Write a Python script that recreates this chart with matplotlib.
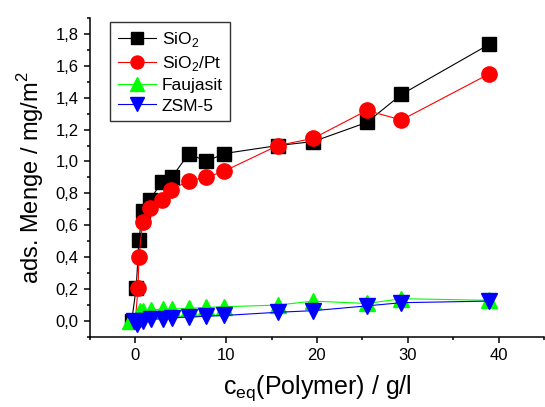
import matplotlib
matplotlib.use("Agg")
import matplotlib.pyplot as plt
from matplotlib.ticker import MultipleLocator, FuncFormatter

# data
x_sio2 = [-0.4, 0.1, 0.4, 0.8, 1.6, 2.9, 4.0, 5.9, 7.8, 9.8, 15.7, 19.6, 25.5, 29.3, 39.0]
y_sio2 = [0.0, 0.21, 0.51, 0.69, 0.76, 0.87, 0.90, 1.05, 1.00, 1.05, 1.10, 1.125, 1.245, 1.42, 1.735]

x_sio2pt = [0.0, 0.3, 0.4, 0.8, 1.6, 2.9, 3.9, 5.9, 7.8, 9.8, 15.7, 19.6, 25.5, 29.3, 39.0]
y_sio2pt = [0.0, 0.21, 0.40, 0.62, 0.71, 0.76, 0.82, 0.88, 0.90, 0.94, 1.10, 1.145, 1.32, 1.26, 1.55]

x_fau = [-0.6, 0.5, 0.9, 1.7, 3.0, 4.0, 5.9, 7.8, 9.8, 15.7, 19.6, 25.5, 29.3, 39.0]
y_fau = [0.0, 0.06, 0.06, 0.07, 0.075, 0.075, 0.08, 0.085, 0.09, 0.10, 0.125, 0.11, 0.14, 0.13]

x_zsm = [-0.2, 0.2, 0.9, 1.7, 3.0, 4.0, 5.9, 7.8, 9.8, 15.7, 19.6, 25.5, 29.3, 39.0]
y_zsm = [0.0, -0.02, 0.0, 0.01, 0.015, 0.02, 0.025, 0.03, 0.035, 0.055, 0.065, 0.095, 0.115, 0.125]

plt.rcParams['font.family'] = ['Liberation Sans', 'DejaVu Sans']

fig = plt.figure(figsize=(5.45, 4.07), dpi=100)
ax = fig.add_axes([0.165, 0.172, 0.833, 0.784])

ms = 10
ax.plot(x_sio2, y_sio2, color='black', lw=0.8, marker='s', ms=ms, label='SiO$_{\\mathregular{2}}$')
ax.plot(x_sio2pt, y_sio2pt, color='red', lw=0.8, marker='o', ms=ms + 1, label='SiO$_{\\mathregular{2}}$/Pt')
ax.plot(x_fau, y_fau, color='#00ff00', lw=0.8, marker='^', ms=ms + 2, label='Faujasit')
ax.plot(x_zsm, y_zsm, color='blue', lw=0.8, marker='v', ms=ms + 2, label='ZSM-5')

ax.set_xlim(-5, 45)
ax.set_ylim(-0.1, 1.9)
ax.xaxis.set_major_locator(MultipleLocator(10))
ax.xaxis.set_minor_locator(MultipleLocator(5))
ax.yaxis.set_major_locator(MultipleLocator(0.2))
ax.yaxis.set_minor_locator(MultipleLocator(0.1))
ax.yaxis.set_major_formatter(FuncFormatter(lambda v, p: f"{v:.1f}".replace('.', ',').replace('-0,0', '0,0')))

for s in ['top', 'right']:
    ax.spines[s].set_visible(False)
for s in ['left', 'bottom']:
    ax.spines[s].set_linewidth(1.1)
ax.tick_params(which='major', direction='out', length=4, width=1.1, labelsize=12, pad=4)
ax.tick_params(which='minor', direction='out', length=2.5, width=1.1)

ax.set_xlabel('c$_{\\mathregular{eq}}$(Polymer) / g/l', fontsize=18, labelpad=7)
ax.set_ylabel('ads. Menge / mg/m$^{\\mathregular{2}}$', fontsize=17, labelpad=7)

leg = ax.legend(loc='upper left', bbox_to_anchor=(0.026, 1.015), fontsize=12.5,
                frameon=True, fancybox=False, edgecolor='black', markerscale=0.85,
                handlelength=2.2, borderpad=0.45, labelspacing=0.3, handletextpad=0.3)
leg.get_frame().set_linewidth(1.0)

fig.savefig('out.png', dpi=100)
